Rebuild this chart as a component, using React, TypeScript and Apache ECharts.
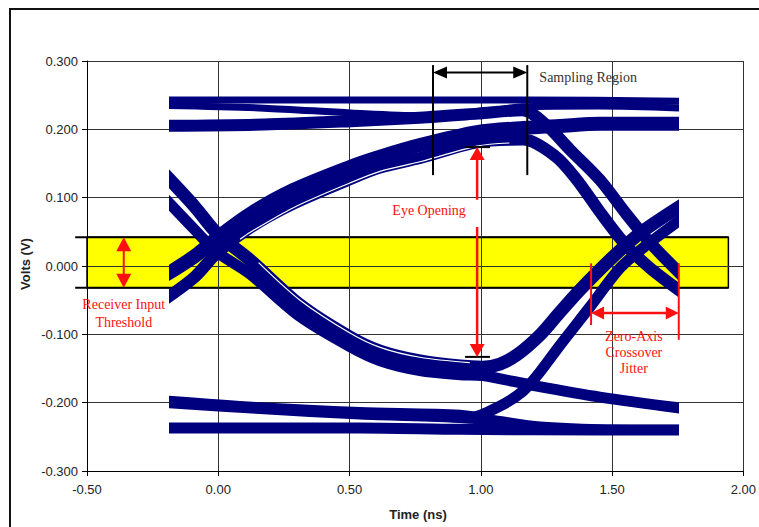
import React, { useEffect, useRef } from "react";
import * as echarts from "echarts";

// ---------- axes ----------
const xAxisMin = -0.5;
const xAxisMax = 2.0;
const xAxisStep = 0.5;
const yAxisMin = -0.3;
const yAxisMax = 0.3;
const yAxisStep = 0.1;
const xAxisTitle = "Time (ns)";
const yAxisTitle = "Volts (V)";

// ---------- receiver input threshold band ----------
const thresholdHigh = 0.042;
const thresholdLow = -0.032;
const thresholdLineStart = -0.545;
const thresholdFillStart = -0.5;
const thresholdEnd = 1.943;

// ---------- trace window (ns) ----------
const traceStart = -0.186;
const traceEnd = 1.742;

// ---------- eye diagram traces: [time (ns), volts] ----------
const topHigh = [[-0.21, 0.243], [0.5, 0.243], [1.17, 0.243], [1.77, 0.241]];
const topMid = [[-0.21, 0.235], [0.17, 0.231], [0.5, 0.224], [0.76, 0.22], [0.98, 0.224], [1.15, 0.233], [1.44, 0.234], [1.77, 0.231]];
const highToLow = [[-0.21, 0.205], [0.17, 0.207], [0.5, 0.212], [0.76, 0.217], [0.98, 0.223], [1.15, 0.228], [1.235, 0.208], [1.33, 0.17], [1.443, 0.126], [1.545, 0.075], [1.633, 0.034], [1.77, -0.02]];
const riseStayHigh = [[-0.21, -0.015], [-0.091, 0.0146], [-0.008, 0.041], [0.117, 0.076], [0.28, 0.111], [0.496, 0.145], [0.61, 0.16], [0.761, 0.177], [0.977, 0.196], [1.152, 0.202], [1.29, 0.205], [1.443, 0.208], [1.77, 0.208]];
const riseThenFall = [[-0.21, -0.05], [-0.091, -0.0156], [-0.008, 0.019], [0.117, 0.056], [0.28, 0.091], [0.496, 0.127], [0.61, 0.144], [0.761, 0.158], [0.977, 0.181], [1.152, 0.185], [1.273, 0.161], [1.356, 0.126], [1.443, 0.079], [1.538, 0.032], [1.633, -0.003], [1.77, -0.043]];
const fallThenRise = [[-0.21, 0.136], [-0.091, 0.0864], [-0.008, 0.048], [0.117, 0.009], [0.307, -0.057], [0.496, -0.104], [0.61, -0.1245], [0.761, -0.139], [0.913, -0.1464], [1.0, -0.148], [1.064, -0.1435], [1.129, -0.13], [1.216, -0.101], [1.292, -0.0673], [1.367, -0.035], [1.492, 0.0132], [1.595, 0.048], [1.77, 0.093]];
const fallStayLow = [[-0.21, 0.101], [-0.091, 0.0527], [-0.008, 0.0205], [0.117, -0.0117], [0.307, -0.0741], [0.496, -0.118], [0.61, -0.1386], [0.761, -0.153], [0.913, -0.159], [1.0, -0.1605], [1.189, -0.1747], [1.443, -0.1918], [1.77, -0.209]];
const lowUpper = [[-0.21, -0.196], [0.155, -0.206], [0.534, -0.213], [0.913, -0.217], [1.064, -0.226], [1.216, -0.234], [1.443, -0.238], [1.77, -0.239]];
const lowMid = [[-0.21, -0.204], [0.155, -0.213], [0.534, -0.221], [0.913, -0.226], [1.216, -0.235], [1.77, -0.239]];
const lowSteady = [[-0.21, -0.237], [0.534, -0.237], [0.913, -0.239], [1.443, -0.24], [1.77, -0.24]];
const lowRise = [[0.85, -0.22], [0.951, -0.222], [1.064, -0.205], [1.152, -0.183], [1.216, -0.155], [1.292, -0.1157], [1.405, -0.06], [1.519, -0.003], [1.621, 0.031], [1.77, 0.074]];

// thin white separations seen inside the eye bands
const eyeTopGap = [[0.08, 0.039], [0.117, 0.049], [0.28, 0.085], [0.496, 0.1215], [0.61, 0.1385], [0.761, 0.1525], [0.977, 0.1755], [1.1, 0.18]];
const eyeBottomGap = [[0.15, 0.005], [0.307, -0.05], [0.496, -0.098], [0.61, -0.119], [0.761, -0.1335], [0.95, -0.1415]];

// ---------- annotation anchors (data units) ----------
const samplingLeft = 0.818;
const samplingRight = 1.177;
const samplingTop = 0.294;
const samplingBottom = 0.133;
const samplingArrowY = 0.283;
const samplingLabelAt = [1.223, 0.276];

const eyeX = 0.986;
const eyeTopTip = 0.174;
const eyeUpperStart = 0.097;
const eyeLowerStart = 0.057;
const eyeBottomTip = -0.133;
const eyeTickFrom = 0.94;
const eyeTickTo = 1.035;
const eyeLabelAt = [0.803, 0.0805];

const receiverX = -0.36;
const receiverLabelAt = [[-0.36, -0.057], [-0.36, -0.082]];

const jitterLeft = 1.42;
const jitterRight = 1.754;
const jitterTop = 0.004;
const jitterLeftBottom = -0.0864;
const jitterRightBottom = -0.108;
const jitterArrowY = -0.0688;
const jitterLabelAt = [[1.583, -0.1025], [1.583, -0.1259], [1.583, -0.1493]];

const NAVY = "#00007f";
const RED = "#ff1010";
const SERIF = '"Liberation Serif", "Times New Roman", serif';
const SANS = '"Liberation Sans", Arial, sans-serif';

const W = 759;
const H = 527;
const GRID = { left: 87, right: 12, top: 61, bottom: 56 };

function arrowHead(tip: number[], from: number[], len: number, width: number, color: string) {
  const dx = tip[0] - from[0];
  const dy = tip[1] - from[1];
  const d = Math.hypot(dx, dy) || 1;
  const ux = dx / d;
  const uy = dy / d;
  const bx = tip[0] - ux * len;
  const by = tip[1] - uy * len;
  return {
    type: "polygon",
    shape: {
      points: [
        [tip[0], tip[1]],
        [bx - (uy * width) / 2, by + (ux * width) / 2],
        [bx + (uy * width) / 2, by - (ux * width) / 2],
      ],
    },
    style: { fill: color },
  };
}

function seg(a: number[], b: number[], color: string, width: number) {
  return {
    type: "line",
    shape: { x1: a[0], y1: a[1], x2: b[0], y2: b[1] },
    style: { stroke: color, lineWidth: width },
  };
}

function label(p: number[], text: string, color: string, align: string) {
  return {
    type: "text",
    x: p[0],
    y: p[1],
    style: {
      text,
      fill: color,
      font: `14px ${SERIF}`,
      align,
      verticalAlign: "middle",
      textAlign: align,
      textVerticalAlign: "middle",
    },
  };
}

export default function App() {
  const ref = useRef<HTMLDivElement>(null);

  useEffect(() => {
    if (!ref.current) return;
    const chart = echarts.init(ref.current, null, { renderer: "svg" });
    const pxPerX = (W - GRID.left - GRID.right) / (xAxisMax - xAxisMin);
    const pxPerY = (H - GRID.top - GRID.bottom) / (yAxisMax - yAxisMin);
    const baseLeft = GRID.left + (traceStart - xAxisMin) * pxPerX;
    const baseRight = GRID.right + (xAxisMax - traceEnd) * pxPerX;
    const pad = 20;
    const traceYMin = yAxisMin - pad / pxPerY;
    const traceYMax = yAxisMax + pad / pxPerY;

    const lines = [
      { data: lowSteady, width: 11, color: NAVY, z: 2 },
      { data: lowMid, width: 5, color: NAVY, z: 2 },
      { data: lowUpper, width: 9, color: NAVY, z: 2 },
      { data: fallStayLow, width: 11, color: NAVY, z: 2 },
      { data: lowRise, width: 11, color: NAVY, z: 2 },
      { data: fallThenRise, width: 13, color: NAVY, z: 2 },
      { data: topHigh, width: 7, color: NAVY, z: 2 },
      { data: topMid, width: 7, color: NAVY, z: 2 },
      { data: highToLow, width: 12, color: NAVY, z: 2 },
      { data: riseThenFall, width: 12, color: NAVY, z: 2 },
      { data: riseStayHigh, width: 14, color: NAVY, z: 2 },
      { data: eyeTopGap, width: 1.2, color: "#ffffff", z: 3 },
      { data: eyeBottomGap, width: 1.2, color: "#ffffff", z: 3 },
    ];

    // one hidden grid per line width so that the (width-expanded) clip
    // lands exactly on the trace window edges
    const lineGrids = lines.map((l) => ({
      left: baseLeft + l.width / 2,
      right: baseRight + l.width / 2,
      top: GRID.top - pad,
      bottom: GRID.bottom - pad,
      containLabel: false,
    }));
    const lineXAxes = lines.map((l, i) => ({
      type: "value",
      gridIndex: i + 1,
      min: traceStart + l.width / 2 / pxPerX,
      max: traceEnd - l.width / 2 / pxPerX,
      show: false,
    }));
    const lineYAxes = lines.map((_l, i) => ({
      type: "value",
      gridIndex: i + 1,
      min: traceYMin,
      max: traceYMax,
      show: false,
    }));

    const lineSeries = lines.map((l, i) => ({
      type: "line",
      xAxisIndex: i + 1,
      yAxisIndex: i + 1,
      data: l.data,
      showSymbol: false,
      symbol: "none",
      smooth: 0.3,
      clip: true,
      silent: true,
      z: l.z,
      lineStyle: { color: l.color, width: l.width, cap: "butt", join: "round" },
    }));

    const bandSeries = {
      type: "custom",
      xAxisIndex: 0,
      yAxisIndex: 0,
      z: 0,
      silent: true,
      data: [[thresholdFillStart, thresholdHigh, thresholdEnd, thresholdLow]],
      renderItem: (_p: any, api: any) => {
        const a = api.coord([thresholdFillStart, thresholdHigh]);
        const b = api.coord([thresholdEnd, thresholdLow]);
        const l1 = api.coord([thresholdLineStart, thresholdHigh]);
        const l2 = api.coord([thresholdLineStart, thresholdLow]);
        return {
          type: "group",
          children: [
            {
              type: "rect",
              shape: { x: a[0], y: a[1], width: b[0] - a[0], height: b[1] - a[1] },
              style: { fill: "#ffff00", stroke: "#000", lineWidth: 1.5 },
            },
            seg(l1, [b[0], a[1]], "#000", 2),
            seg(l2, [b[0], b[1]], "#000", 2),
          ],
        };
      },
    };

    const annotationSeries = {
      type: "custom",
      xAxisIndex: 0,
      yAxisIndex: 0,
      z: 5,
      silent: true,
      data: [[0, 0]],
      renderItem: (_p: any, api: any) => {
        const c = (x: number, y: number) => api.coord([x, y]);
        const children: any[] = [];
        // sampling region
        const sl = c(samplingLeft, samplingArrowY);
        const sr = c(samplingRight, samplingArrowY);
        children.push(seg(c(samplingLeft, samplingTop), c(samplingLeft, samplingBottom), "#000", 2));
        children.push(seg(c(samplingRight, samplingTop), c(samplingRight, samplingBottom), "#000", 2));
        children.push(seg([sl[0] + 10, sl[1]], [sr[0] - 10, sr[1]], "#000", 2));
        children.push(arrowHead(sl, sr, 14, 12, "#000"));
        children.push(arrowHead(sr, sl, 14, 12, "#000"));
        children.push(label(c(samplingLabelAt[0], samplingLabelAt[1]), "Sampling Region", "#333", "left"));
        // eye opening
        const et = c(eyeX, eyeTopTip);
        const eu = c(eyeX, eyeUpperStart);
        const el = c(eyeX, eyeLowerStart);
        const eb = c(eyeX, eyeBottomTip);
        children.push(seg(c(eyeTickFrom, eyeTopTip), c(eyeTickTo, eyeTopTip), "#000", 2));
        children.push(seg(c(eyeTickFrom, eyeBottomTip), c(eyeTickTo, eyeBottomTip), "#000", 2));
        children.push(seg(eu, [et[0], et[1] + 10], RED, 2.5));
        children.push(arrowHead(et, eu, 13, 15, RED));
        children.push(seg(el, [eb[0], eb[1] - 10], RED, 2.5));
        children.push(arrowHead(eb, el, 13, 15, RED));
        children.push(label(c(eyeLabelAt[0], eyeLabelAt[1]), "Eye Opening", RED, "center"));
        // receiver input threshold
        const rt = c(receiverX, thresholdHigh);
        const rb = c(receiverX, thresholdLow);
        children.push(seg([rt[0], rt[1] + 10], [rb[0], rb[1] - 10], RED, 2));
        children.push(arrowHead(rt, rb, 14, 15, RED));
        children.push(arrowHead(rb, rt, 14, 15, RED));
        children.push(label(c(receiverLabelAt[0][0], receiverLabelAt[0][1]), "Receiver Input", RED, "center"));
        children.push(label(c(receiverLabelAt[1][0], receiverLabelAt[1][1]), "Threshold", RED, "center"));
        // zero-axis crossover jitter
        const jl = c(jitterLeft, jitterArrowY);
        const jr = c(jitterRight, jitterArrowY);
        children.push(seg(c(jitterLeft, jitterTop), c(jitterLeft, jitterLeftBottom), RED, 2));
        children.push(seg(c(jitterRight, jitterTop), c(jitterRight, jitterRightBottom), RED, 2));
        children.push(seg([jl[0] + 10, jl[1]], [jr[0] - 10, jr[1]], RED, 2.5));
        children.push(arrowHead(jl, jr, 13, 13, RED));
        children.push(arrowHead(jr, jl, 13, 13, RED));
        const jt = ["Zero-Axis", "Crossover", "Jitter"];
        jitterLabelAt.forEach((p, i) => children.push(label(c(p[0], p[1]), jt[i], RED, "center")));
        return { type: "group", children };
      },
    };

    const axisCommon = {
      axisLine: { show: true, onZero: false, lineStyle: { color: "#000", width: 1 } },
      axisTick: { show: true, inside: false, length: 5, lineStyle: { color: "#000" } },
      splitLine: { show: true, lineStyle: { color: "#333", width: 1 } },
    };

    chart.setOption({
      animation: false,
      backgroundColor: "#fff",
      grid: [{ ...GRID, containLabel: false }, ...lineGrids],
      xAxis: [
        {
          type: "value",
          gridIndex: 0,
          min: xAxisMin,
          max: xAxisMax,
          interval: xAxisStep,
          z: 1,
          ...axisCommon,
          axisLabel: {
            color: "#222",
            fontSize: 13,
            fontFamily: SANS,
            margin: 12,
            formatter: (v: number) => v.toFixed(2),
          },
        },
        ...lineXAxes,
      ],
      yAxis: [
        {
          type: "value",
          gridIndex: 0,
          min: yAxisMin,
          max: yAxisMax,
          interval: yAxisStep,
          z: 1,
          ...axisCommon,
          axisLabel: {
            color: "#222",
            fontSize: 13,
            fontFamily: SANS,
            margin: 9,
            formatter: (v: number) => v.toFixed(3),
          },
        },
        ...lineYAxes,
      ],
      graphic: [
        {
          type: "rect",
          z: 10,
          silent: true,
          shape: { x: 10, y: 9, width: 800, height: 600 },
          style: { fill: "none", stroke: "#111", lineWidth: 2 },
        },
        {
          type: "text",
          x: 25,
          y: 264,
          rotation: Math.PI / 2,
          silent: true,
          style: {
            text: yAxisTitle,
            fill: "#222",
            font: `bold 13px ${SANS}`,
            align: "center",
            verticalAlign: "middle",
          },
        },
        {
          type: "text",
          x: 418,
          y: 514,
          silent: true,
          style: {
            text: xAxisTitle,
            fill: "#222",
            font: `bold 13px ${SANS}`,
            align: "center",
            verticalAlign: "middle",
          },
        },
      ],
      series: [bandSeries, ...lineSeries, annotationSeries],
    });

    return () => chart.dispose();
  }, []);

  return (
    <div
      ref={ref}
      style={{ position: "fixed", left: 0, top: 0, width: W, height: H, background: "#fff" }}
    />
  );
}
